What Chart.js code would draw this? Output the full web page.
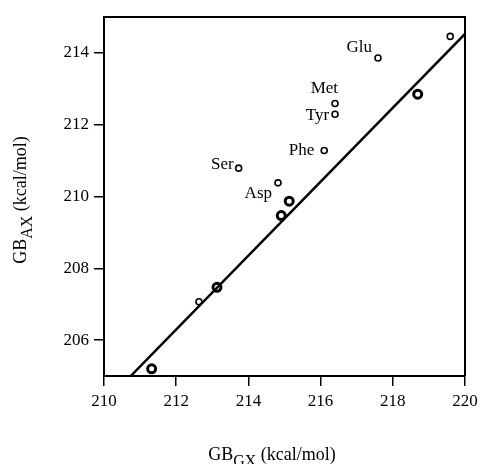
<!DOCTYPE html>
<html>
<head>
<meta charset="utf-8">
<script src="https://cdn.jsdelivr.net/npm/chart.js@4"></script>
<style>
  html, body { margin: 0; padding: 0; background: #fff; }
  #wrap { width: 480px; height: 464px; }
</style>
</head>
<body>
<div id="wrap"><canvas id="gbChart" width="480" height="464"></canvas></div>
<script>
// open circles (some named)
const smallX = [219.59, 217.59, 216.40, 216.40, 216.10, 213.73, 214.82, 212.63];
const smallY = [214.46, 213.86, 212.59, 212.29, 211.28, 210.79, 210.38, 207.07];
const smallNames = ['', 'Glu', 'Met', 'Tyr', 'Phe', 'Ser', 'Asp', ''];
// bold circles
const boldX = [218.69, 215.13, 214.91, 213.13, 211.32];
const boldY = [212.85, 209.87, 209.47, 207.47, 205.20];
// fitted line
const fitX = [210.74, 220.0];
const fitY = [205.0, 214.53];
// axis ticks
const xTicks = [210, 212, 214, 216, 218, 220];
const yTicks = [206, 208, 210, 212, 214];

const serif = '"Liberation Serif", "DejaVu Serif", serif';

// where each name sits next to its circle
const nameOffsets = {
    Glu: [-6, -10, 'right'],
    Met: [3, -15, 'right'],
    Tyr: [-6, 1, 'right'],
    Phe: [-10, 0, 'right'],
    Ser: [-5, -4, 'right'],
    Asp: [-6, 11, 'right']
};

const extras = {
    id: 'extras',
    afterDraw(chart) {
        const ctx = chart.ctx;
        const a = chart.chartArea;
        const xs = chart.scales.x, ys = chart.scales.y;
        ctx.save();
        // top and right sides of the frame
        ctx.strokeStyle = '#000';
        ctx.lineWidth = 2;
        ctx.beginPath();
        ctx.moveTo(a.left, a.top);
        ctx.lineTo(a.right, a.top);
        ctx.lineTo(a.right, a.bottom);
        ctx.stroke();

        // point names
        ctx.fillStyle = '#000';
        ctx.font = '17px ' + serif;
        ctx.textBaseline = 'middle';
        smallNames.forEach((name, i) => {
            if (!name) return;
            const off = nameOffsets[name];
            ctx.textAlign = off[2];
            ctx.fillText(name, xs.getPixelForValue(smallX[i]) + off[0], ys.getPixelForValue(smallY[i]) + off[1]);
        });

        // axis titles with subscripts
        const drawTitle = (main, sub, rest, cx, base) => {
            ctx.textAlign = 'left';
            ctx.textBaseline = 'alphabetic';
            ctx.font = '18px ' + serif;
            const w1 = ctx.measureText(main).width;
            const w3 = ctx.measureText(rest).width;
            ctx.font = '16px ' + serif;
            const w2 = ctx.measureText(sub).width;
            let x = cx - (w1 + w2 + w3) / 2;
            ctx.font = '18px ' + serif;
            ctx.fillText(main, x, base);
            x += w1;
            ctx.font = '16px ' + serif;
            ctx.fillText(sub, x, base + 6);
            x += w2;
            ctx.font = '18px ' + serif;
            ctx.fillText(rest, x, base);
        };
        drawTitle('GB', 'GX', ' (kcal/mol)', 272, 460);
        ctx.save();
        ctx.translate(26, 200);
        ctx.rotate(-Math.PI / 2);
        drawTitle('GB', 'AX', ' (kcal/mol)', 0, 0);
        ctx.restore();
        ctx.restore();
    }
};

const axisCommon = {
    type: 'linear',
    grid: { display: true, drawOnChartArea: false, drawTicks: true, tickLength: 10, color: '#000', lineWidth: 1.5 },
    border: { display: true, color: '#000', width: 2 },
    ticks: { color: '#000', font: { family: serif, size: 17 }, padding: 5 }
};

new Chart(document.getElementById('gbChart').getContext('2d'), {
    type: 'scatter',
    data: {
        datasets: [
            {
                label: 'fit',
                type: 'line',
                data: fitX.map((x, i) => ({ x: x, y: fitY[i] })),
                borderColor: '#000',
                borderWidth: 2.5,
                pointRadius: 0,
                fill: false
            },
            {
                label: 'open',
                data: smallX.map((x, i) => ({ x: x, y: smallY[i] })),
                pointRadius: 3,
                pointBorderWidth: 1.6,
                pointBorderColor: '#000',
                pointBackgroundColor: '#fff'
            },
            {
                label: 'bold',
                data: boldX.map((x, i) => ({ x: x, y: boldY[i] })),
                pointRadius: 4,
                pointBorderWidth: 3,
                pointBorderColor: '#000',
                pointBackgroundColor: '#fff'
            }
        ]
    },
    options: {
        responsive: false,
        animation: false,
        layout: { padding: { left: 0, right: 15, top: 17, bottom: 0 } },
        plugins: { legend: { display: false }, tooltip: { enabled: false } },
        scales: {
            x: Object.assign({}, axisCommon, {
                min: 210, max: 220,
                afterBuildTicks: s => { s.ticks = xTicks.map(v => ({ value: v })); },
                afterFit: s => { s.height = 88; s.paddingLeft = 0; s.paddingRight = 0; }
            }),
            y: Object.assign({}, axisCommon, {
                min: 205, max: 215,
                afterBuildTicks: s => { s.ticks = yTicks.map(v => ({ value: v })); },
                afterFit: s => { s.width = 104; s.paddingTop = 0; s.paddingBottom = 0; }
            })
        }
    },
    plugins: [extras]
});
</script>
</body>
</html>
